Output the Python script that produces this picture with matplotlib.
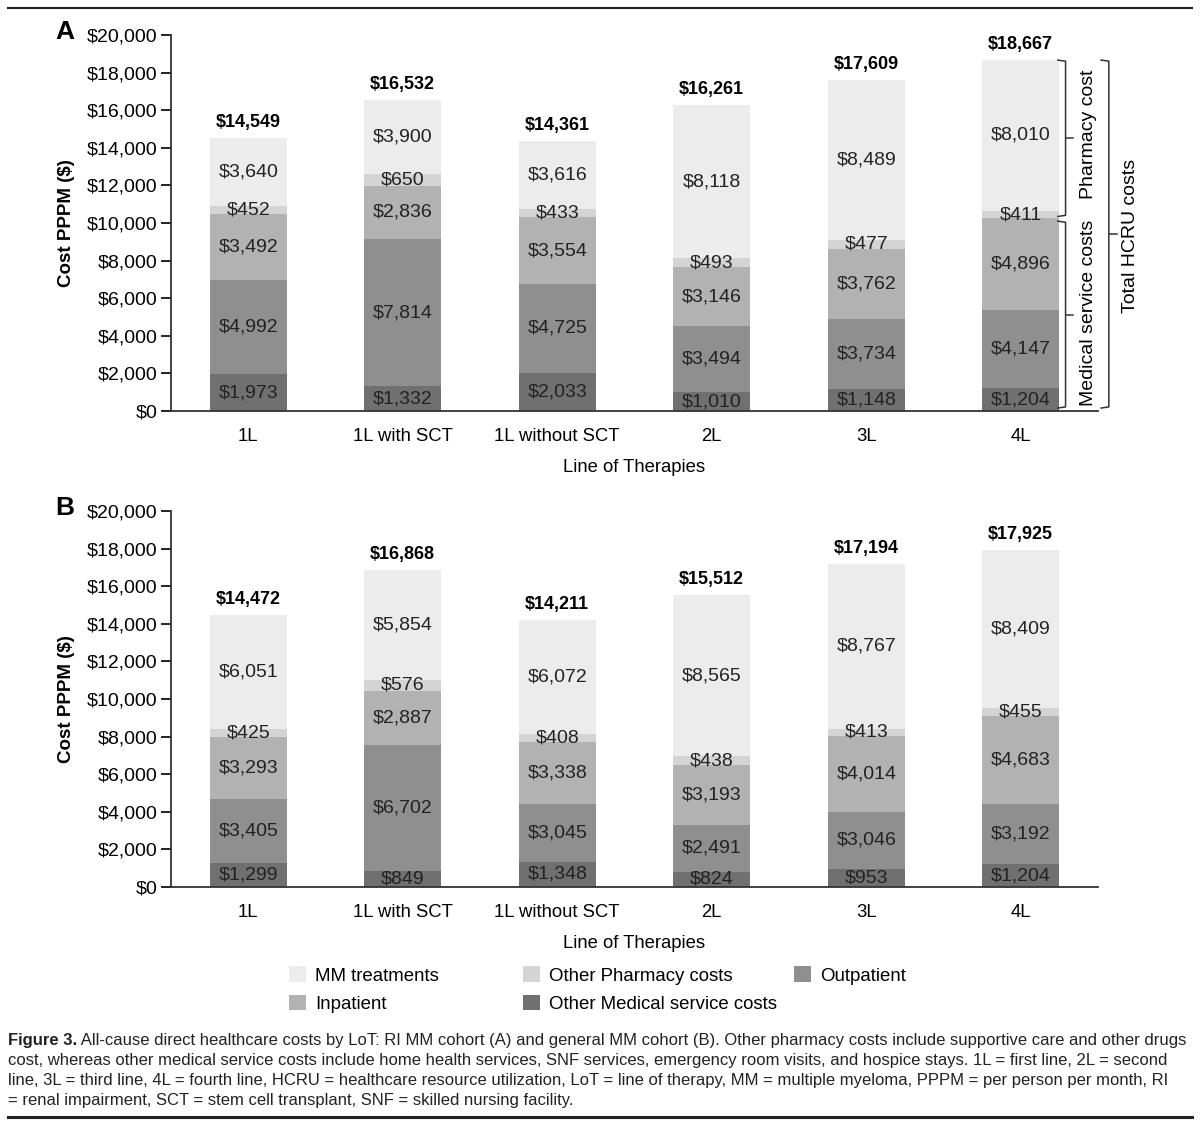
import matplotlib
matplotlib.use("Agg")
import matplotlib.pyplot as plt
from matplotlib.patches import Patch
from matplotlib.lines import Line2D
import numpy as np

plt.rcParams['font.family'] = ['Liberation Sans', 'DejaVu Sans']

# 数据
categories = ["1L", "1L with SCT", "1L without SCT", "2L", "3L", "4L"]
series_names = ["Other Medical service costs", "Outpatient", "Inpatient",
                "Other Pharmacy costs", "MM treatments"]
colors = ["#707070", "#8f8f8f", "#b2b2b2", "#d4d4d4", "#ececec"]

# 面板 A: RI MM cohort (自下而上)
a_other_med = [1973, 1332, 2033, 1010, 1148, 1204]
a_outpatient = [4992, 7814, 4725, 3494, 3734, 4147]
a_inpatient = [3492, 2836, 3554, 3146, 3762, 4896]
a_other_pharm = [452, 650, 433, 493, 477, 411]
a_mm = [3640, 3900, 3616, 8118, 8489, 8010]
a_total = [14549, 16532, 14361, 16261, 17609, 18667]

# 面板 B: general MM cohort
b_other_med = [1299, 849, 1348, 824, 953, 1204]
b_outpatient = [3405, 6702, 3045, 2491, 3046, 3192]
b_inpatient = [3293, 2887, 3338, 3193, 4014, 4683]
b_other_pharm = [425, 576, 408, 438, 413, 455]
b_mm = [6051, 5854, 6072, 8565, 8767, 8409]
b_total = [14472, 16868, 14211, 15512, 17194, 17925]

y_ticks = list(range(0, 20001, 2000))


def money(v):
    return "${:,}".format(v)


def draw_panel(ax, layers, totals, letter):
    x = np.arange(len(categories))
    bottom = np.zeros(len(categories))
    for vals, col in zip(layers, colors):
        vals = np.array(vals, dtype=float)
        ax.bar(x, vals, 0.5, bottom=bottom, color=col, edgecolor='none', zorder=2)
        for xi, b, v in zip(x, bottom, vals):
            ax.text(xi, b + v / 2, money(int(v)), ha='center', va='center',
                    fontsize=14, color='#222222', zorder=3)
        bottom += vals
    for xi, b, t in zip(x, bottom, totals):
        ax.annotate(money(t), (xi, b), xytext=(0, 5), textcoords='offset points',
                    ha='center', va='bottom', fontsize=13, fontweight='bold')
    ax.set_xlim(-0.5, 5.5)
    ax.set_ylim(0, 20000)
    ax.set_yticks(y_ticks)
    ax.set_yticklabels([money(v) for v in y_ticks], fontsize=14)
    ax.set_xticks(x)
    ax.set_xticklabels(categories, fontsize=13.3)
    ax.tick_params(axis='x', length=0, pad=12)
    ax.tick_params(axis='y', length=7, width=1.2, pad=3)
    for s in ['top', 'right']:
        ax.spines[s].set_visible(False)
    for s in ['left', 'bottom']:
        ax.spines[s].set_linewidth(1.3)
        ax.spines[s].set_color('#333333')
    ax.set_ylabel("Cost PPPM ($)", fontsize=13.5, fontweight='bold', labelpad=8)
    ax.set_xlabel("Line of Therapies", fontsize=13.3, labelpad=10)
    ax.text(-0.125, 1.008, letter, transform=ax.transAxes, fontsize=19,
            fontweight='bold', ha='left', va='center')


def brace(ax, x, y0, y1, text, tx, ty):
    # 右侧的大括号 "}"
    h = 0.05
    ax.add_line(Line2D([x - h, x, x, x - h], [y1, y1 - 60, y0 + 60, y0],
                       color='#333333', lw=1.1, clip_on=False))
    ym = (y0 + y1) / 2
    ax.add_line(Line2D([x, x + h], [ym, ym], color='#333333', lw=1.1, clip_on=False))
    ax.text(tx, ty, text, rotation=90, ha='center', va='center', fontsize=14)


fig = plt.figure(figsize=(12, 11.33), dpi=100)
ax_a = fig.add_axes([0.1425, 0.6372, 0.7725, 0.3319])
ax_b = fig.add_axes([0.1425, 0.2171, 0.7725, 0.3319])

draw_panel(ax_a, [a_other_med, a_outpatient, a_inpatient, a_other_pharm, a_mm], a_total, "A")
draw_panel(ax_b, [b_other_med, b_outpatient, b_inpatient, b_other_pharm, b_mm], b_total, "B")

# 面板 A 右侧注释
brace(ax_a, 5.29, 10350, 18667, "Pharmacy cost", 5.44, 14700)
brace(ax_a, 5.29, 160, 10100, "Medical service costs", 5.44, 5200)
brace(ax_a, 5.57, 160, 18667, "Total HCRU costs", 5.71, 9300)

# 图例
handles = {n: Patch(facecolor=c, edgecolor='none') for n, c in zip(series_names, colors)}
cols = [(["MM treatments", "Inpatient"], 0.241),
        (["Other Pharmacy costs", "Other Medical service costs"], 0.436),
        (["Outpatient"], 0.662)]
for names, xpos in cols:
    fig.legend([handles[n] for n in names], names, loc='upper left',
               bbox_to_anchor=(xpos, 0.147), frameon=False, fontsize=13.4,
               handlelength=0.9, handleheight=0.9, handletextpad=0.5,
               labelspacing=0.55, borderpad=0, borderaxespad=0)

# 上下分隔线
fig.add_artist(Line2D([0.007, 0.993], [0.993, 0.993], color='#222222', lw=1.5))
fig.add_artist(Line2D([0.007, 0.993], [0.014, 0.014], color='#222222', lw=2.2))

# 图注
cap_font = ['Liberation Sans Narrow', 'Liberation Sans', 'DejaVu Sans']
lines = [
    " All-cause direct healthcare costs by LoT: RI MM cohort (A) and general MM cohort (B). Other pharmacy costs include supportive care and other drugs",
    "cost, whereas other medical service costs include home health services, SNF services, emergency room visits, and hospice stays. 1L = first line, 2L = second",
    "line, 3L = third line, 4L = fourth line, HCRU = healthcare resource utilization, LoT = line of therapy, MM = multiple myeloma, PPPM = per person per month, RI",
    "= renal impairment, SCT = stem cell transplant, SNF = skilled nursing facility.",
]
x0 = 8 / 1200
y0 = 1 - 1040 / 1133
dy = 20 / 1133
t = fig.text(x0, y0, "Figure 3.", family=cap_font, fontweight='bold',
             fontsize=12, va='center', color='#222222')
r = fig.canvas.get_renderer()
bb = t.get_window_extent(renderer=r)
fig.text(bb.x1 / fig.bbox.width, y0, lines[0], family=cap_font, fontsize=12,
         va='center', color='#222222')
for i, ln in enumerate(lines[1:], start=1):
    fig.text(x0, y0 - i * dy, ln, family=cap_font, fontsize=12, va='center',
             color='#222222')

fig.savefig("out.png", dpi=100)
